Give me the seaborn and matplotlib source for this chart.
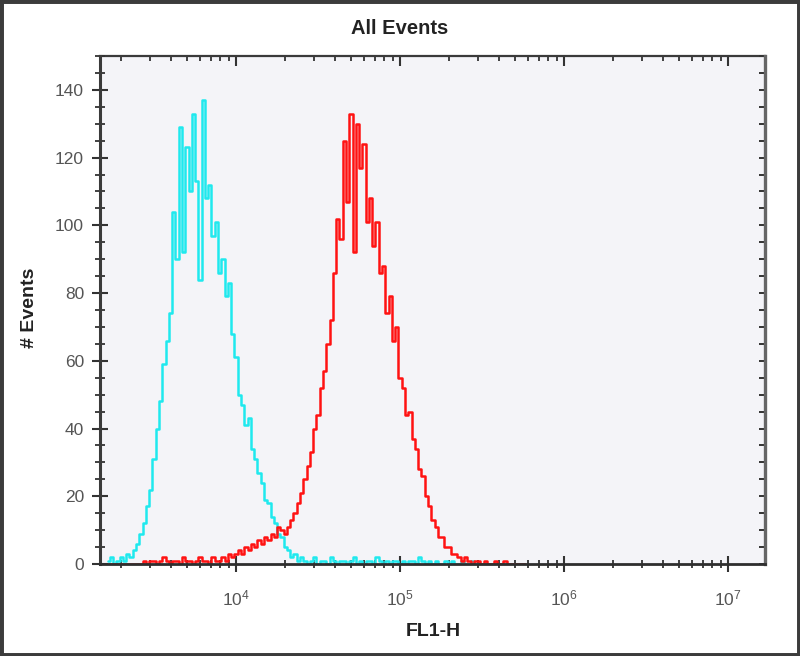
import numpy as np
import pandas as pd
import matplotlib
matplotlib.use("Agg")
import matplotlib.pyplot as plt
import seaborn as sns
from matplotlib.ticker import LogLocator, MultipleLocator, NullFormatter
from matplotlib.patches import Rectangle

# -------------------------------
# Histogram channels (log-spaced bins, 0.02 decade wide)
# -------------------------------
bin_start_exp = 3.22
bin_step = 0.02

cyan_counts = [
    1, 2, 0, 1, 2, 1, 3, 2, 4, 6,
    9, 12, 17, 22, 31, 40, 48, 59, 66, 74,
    104, 90, 129, 92, 123, 110, 133, 113, 84, 137,
    108, 112, 97, 101, 86, 90, 79, 83, 68, 61,
    50, 47, 41, 43, 34, 31, 27, 24, 19, 18,
    14, 12, 9, 8, 5, 4, 2, 3, 1, 2,
    1, 0, 1, 2, 0, 1, 1, 0, 2, 1,
    0, 1, 1, 0, 1, 2, 0, 1, 0, 1,
    1, 0, 2, 1, 0, 1, 0, 1, 1, 0,
    1, 0, 1, 1, 0, 2, 1, 0, 1, 0,
    1, 0, 0, 1, 0, 1, 0, 0, 1, 0,
    0, 1, 0, 0, 0, 0, 0, 0, 0, 0,
    0, 0, 0, 0, 0, 0, 0, 0,
]

red_counts = [
    0, 0, 0, 0, 0, 0, 0, 0, 0, 0,
    0, 1, 0, 1, 1, 0, 1, 2, 1, 0,
    1, 1, 0, 2, 1, 1, 0, 1, 2, 1,
    1, 0, 2, 1, 1, 2, 1, 3, 2, 3,
    4, 3, 5, 4, 6, 5, 7, 6, 8, 7,
    9, 8, 11, 10, 9, 11, 13, 15, 18, 21,
    25, 29, 33, 40, 44, 52, 57, 65, 72, 86,
    102, 96, 125, 107, 133, 92, 130, 117, 124, 101,
    108, 94, 101, 86, 88, 74, 79, 66, 70, 55,
    52, 44, 45, 37, 34, 28, 26, 20, 17, 13,
    11, 8, 8, 5, 5, 3, 3, 2, 1, 2,
    1, 0, 1, 1, 0, 1, 0, 0, 1, 0,
    0, 1, 0, 0, 0, 0, 0, 0,
]

centers = 10 ** (bin_start_exp + bin_step * np.arange(len(cyan_counts)))
df = pd.DataFrame({"FL1-H": centers, "cyan": cyan_counts, "red": red_counts})

# -------------------------------
# Theme
# -------------------------------
sns.set_theme(style="ticks")
plt.rcParams["font.family"] = ["Liberation Sans", "DejaVu Sans"]
plt.rcParams["mathtext.fontset"] = "custom"
plt.rcParams["mathtext.rm"] = "Liberation Sans"
plt.rcParams["mathtext.it"] = "Liberation Sans:italic"
plt.rcParams["mathtext.bf"] = "Liberation Sans:bold"

fig = plt.figure(figsize=(8, 6.56), dpi=100, facecolor="white")
ax = fig.add_axes([0.125, 0.1402, 0.8312, 0.7744])
ax.set_facecolor("#f4f4f8")

sns.lineplot(data=df, x="FL1-H", y="cyan", color="#1fe9ee", linewidth=1.8,
             drawstyle="steps-mid", estimator=None, ax=ax)
sns.lineplot(data=df, x="FL1-H", y="red", color="#ff1212", linewidth=1.8,
             drawstyle="steps-mid", estimator=None, ax=ax)

ax.set_xscale("log")
ax.set_xlim(1480, 1.68e7)
ax.set_ylim(0, 150)
ax.set_xlabel("")
ax.set_ylabel("")

tick_col = "#333333"
ax.xaxis.set_major_locator(LogLocator(base=10, numticks=12))
ax.xaxis.set_minor_locator(LogLocator(base=10, subs=np.arange(2, 10), numticks=12))
ax.xaxis.set_minor_formatter(NullFormatter())
ax.yaxis.set_major_locator(MultipleLocator(20))
ax.yaxis.set_minor_locator(MultipleLocator(5))

ax.tick_params(axis="x", which="major", direction="inout", length=11, width=1.5,
               color=tick_col, pad=12, labelsize=12.5, labelcolor="#555555", top=False)
ax.tick_params(axis="x", which="minor", direction="inout", length=6, width=1.3,
               color=tick_col, top=False)
ax.tick_params(axis="y", which="major", direction="inout", length=11, width=1.5,
               color=tick_col, pad=6, labelsize=12.5, labelcolor="#555555", right=False)
ax.tick_params(axis="y", which="minor", direction="inout", length=6.5, width=1.3,
               color=tick_col, right=False)

# top and right axes with inward ticks, no labels
top = ax.secondary_xaxis("top")
top.xaxis.set_major_locator(LogLocator(base=10, numticks=12))
top.xaxis.set_minor_locator(LogLocator(base=10, subs=np.arange(2, 10), numticks=12))
top.xaxis.set_minor_formatter(NullFormatter())
top.tick_params(which="major", direction="in", length=7, width=1.5, color=tick_col, labeltop=False)
top.tick_params(which="minor", direction="in", length=3.5, width=1.3, color=tick_col)
top.spines["top"].set_color("#3a3a3a")
top.spines["top"].set_linewidth(1.6)

right = ax.secondary_yaxis("right")
right.yaxis.set_major_locator(MultipleLocator(20))
right.yaxis.set_minor_locator(MultipleLocator(5))
right.tick_params(which="both", direction="in", length=4.5, width=1.4, color=tick_col, labelright=False)
right.spines["right"].set_color("#666666")
right.spines["right"].set_linewidth(2.4)

ax.spines["top"].set_visible(False)
ax.spines["right"].set_visible(False)
ax.spines["left"].set_color("#3a3a3a")
ax.spines["left"].set_linewidth(2.2)
ax.spines["bottom"].set_color("#2e2e2e")
ax.spines["bottom"].set_linewidth(2.0)

# labels
fig.text(0.5, 1 - 28 / 656, "All Events", ha="center", va="center",
         fontsize=14.5, fontweight="bold", color="#222222")
fig.text(433 / 800, 1 - 632 / 656, "FL1-H", ha="center", va="center",
         fontsize=14, fontweight="bold", color="#222222")
fig.text(30 / 800, 1 - 308 / 656, "# Events", ha="center", va="center", rotation=90,
         fontsize=14, fontweight="bold", color="#222222")

# outer frame
fig.patches.append(Rectangle((0, 0), 1, 1, transform=fig.transFigure, fill=False,
                             edgecolor="#3c3c3c", linewidth=5))

fig.savefig("out.png", dpi=100)
